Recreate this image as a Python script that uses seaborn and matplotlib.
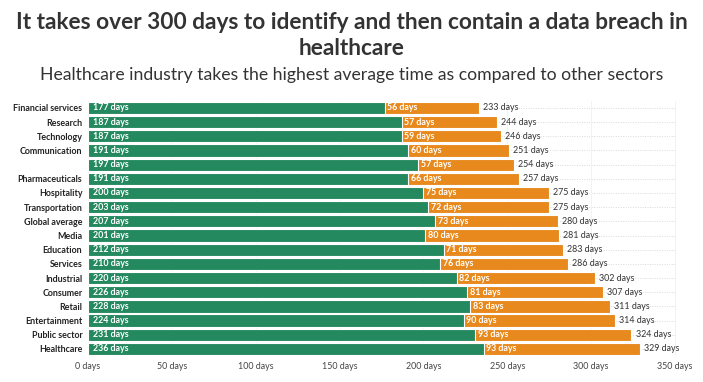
import numpy as np
import pandas as pd
import matplotlib
matplotlib.use("Agg")
import matplotlib.pyplot as plt
import seaborn as sns

sns.set_style("white")
plt.rcParams['font.family'] = ['Lato', 'DejaVu Sans']

# data
sectors = ["Financial services", "Research", "Technology", "Communication", "",
           "Pharmaceuticals", "Hospitality", "Transportation", "Global average",
           "Media", "Education", "Services", "Industrial", "Consumer", "Retail",
           "Entertainment", "Public sector", "Healthcare"]
identify_days = [177, 187, 187, 191, 197, 191, 200, 203, 207, 201, 212, 210,
                 220, 226, 228, 224, 231, 236]
contain_days = [56, 57, 59, 60, 57, 66, 75, 72, 73, 80, 71, 76, 82, 81, 83,
                90, 93, 93]
x_ticks = [0, 50, 100, 150, 200, 250, 300, 350]

df = pd.DataFrame({"sector": sectors, "identify": identify_days,
                   "contain": contain_days})
df["total"] = df["identify"] + df["contain"]
df["pos"] = np.arange(len(df))

green = "#24895f"
orange = "#e8891d"

fig = plt.figure(figsize=(7.03, 3.82), dpi=100)
ax = fig.add_axes([0.125, 0.068, 0.84, 0.668])

# dotted row guides
for p in df["pos"]:
    ax.plot([0, 350], [p, p], ls=(0, (1, 1.5)), color="#d9d9d9", lw=0.7, zorder=0)

sns.barplot(data=df, y="pos", x="total", orient="h", color=orange,
            width=0.86, saturation=1, ax=ax, edgecolor="white", linewidth=0.8,
            zorder=2)
sns.barplot(data=df, y="pos", x="identify", orient="h", color=green,
            width=0.86, saturation=1, ax=ax, edgecolor="white", linewidth=0.8,
            zorder=3)

tot_bars = ax.containers[0]
id_bars = ax.containers[1]

# labels
for bar, v in zip(id_bars, df["identify"]):
    ax.text(bar.get_x() + 3, bar.get_y() + bar.get_height() / 2, f"{v} days",
            color="white", fontsize=6.4, fontweight="bold", va="center",
            ha="left", zorder=4)
for bar, c, t in zip(tot_bars, df["contain"], df["total"]):
    idv = t - c
    ax.text(idv + 1.5, bar.get_y() + bar.get_height() / 2, f"{c} days",
            color="white", fontsize=6.4, fontweight="bold", va="center",
            ha="left", zorder=4)
    ax.text(t + 2.5, bar.get_y() + bar.get_height() / 2, f"{t} days",
            color="#333333", fontsize=6.4, va="center", ha="left", zorder=4)

ax.set_xlim(0, 352)
ax.set_ylim(len(df) - 0.5, -0.5)
ax.set_xticks(x_ticks)
ax.set_xticklabels([f"{t} days" for t in x_ticks], fontsize=6.4, color="#444444")
ax.set_yticks(df["pos"])
ax.set_yticklabels(df["sector"], fontsize=6.4, fontweight="bold", color="#222222")
ax.tick_params(axis="both", length=0, pad=4)
ax.set_xlabel("")
ax.set_ylabel("")
for s in ax.spines.values():
    s.set_visible(False)
ax.xaxis.grid(True, color="#f0f0f0", lw=0.6)
ax.set_axisbelow(True)

fig.text(0.5, 0.942, "It takes over 300 days to identify and then contain a data breach in",
         ha="center", va="center", fontsize=16.3, fontweight="bold", color="#333333")
fig.text(0.5, 0.874, "healthcare", ha="center", va="center", fontsize=16.3,
         fontweight="bold", color="#333333")
fig.text(0.5, 0.803, "Healthcare industry takes the highest average time as compared to other sectors",
         ha="center", va="center", fontsize=12.7, color="#333333")

fig.savefig("out.png", dpi=100)
